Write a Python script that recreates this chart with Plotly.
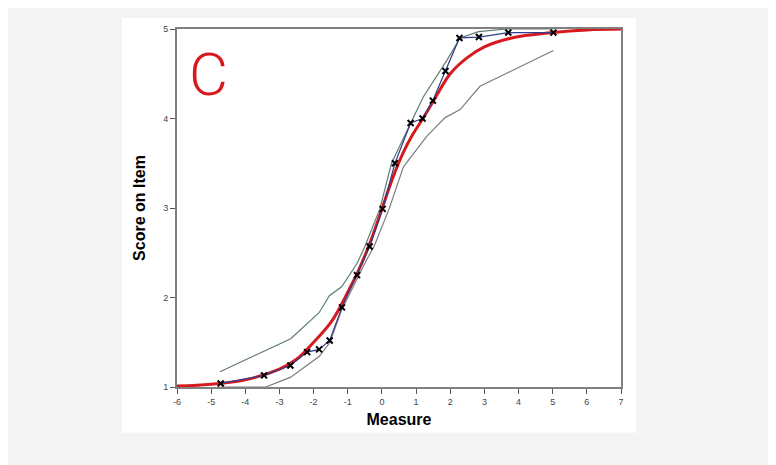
import plotly.graph_objects as go

# observed item scores (x markers joined by the blue line)
obs_x = [-4.72, -3.45, -2.68, -2.19, -1.84, -1.53, -1.17, -0.73, -0.36,
         0.02, 0.38, 0.84, 1.19, 1.49, 1.86, 2.27, 2.84, 3.70, 5.02]
obs_y = [1.04, 1.13, 1.24, 1.39, 1.42, 1.52, 1.89, 2.25, 2.57,
         2.99, 3.50, 3.95, 4.00, 4.20, 4.53, 4.90, 4.91, 4.96, 4.96]

# model expected score curve (red)
model_x = [-6.0, -5.0, -4.0, -3.0, -2.5, -2.0, -1.5, -1.2, -1.0, -0.7, -0.35, 0.0,
           0.3, 0.6, 0.9, 1.2, 1.5, 2.0, 2.5, 3.0, 3.8, 5.0, 6.0, 7.0]
model_y = [1.01, 1.03, 1.08, 1.20, 1.31, 1.50, 1.72, 1.91, 2.06, 2.29, 2.61, 2.99,
           3.32, 3.60, 3.82, 4.00, 4.19, 4.50, 4.68, 4.80, 4.90, 4.96, 4.99, 5.00]

# upper confidence band
upper_x = [-4.74, -2.67, -1.84, -1.54, -1.18, -0.73, -0.5, -0.06, 0.28,
           1.21, 1.90, 2.29, 2.83, 3.66, 5.02]
upper_y = [1.17, 1.54, 1.83, 2.02, 2.12, 2.38, 2.57, 2.99, 3.50,
           4.24, 4.65, 4.90, 4.97, 5.00, 5.00]

# lower confidence band
lower_x = [-4.72, -3.40, -2.67, -1.84, -1.52, -1.18, -0.45, -0.23, 0.21,
           0.63, 1.31, 1.85, 2.29, 2.87, 5.02]
lower_y = [1.00, 1.00, 1.11, 1.34, 1.50, 1.86, 2.42, 2.57, 2.99,
           3.46, 3.80, 4.01, 4.10, 4.36, 4.76]

x_ticks = list(range(-6, 8))
x_labels = [str(v) for v in x_ticks]
y_ticks = [1, 2, 3, 4, 5]

fig = go.Figure()
fig.add_trace(go.Scatter(x=upper_x, y=upper_y, mode='lines',
                         line=dict(color='rgb(95,125,115)', width=1.2)))
fig.add_trace(go.Scatter(x=lower_x, y=lower_y, mode='lines',
                         line=dict(color='rgb(125,125,125)', width=1.2)))
fig.add_trace(go.Scatter(x=model_x, y=model_y, mode='lines', line_shape='spline',
                         line=dict(color='rgb(215,25,30)', width=3)))
fig.add_trace(go.Scatter(x=obs_x, y=obs_y, mode='lines+markers',
                         line=dict(color='rgb(50,60,140)', width=1.2),
                         marker=dict(symbol='x-thin', size=6, color='black',
                                     line=dict(color='black', width=2))))

fig.update_layout(
    width=776, height=465,
    margin=dict(l=169, r=163, t=21, b=86),
    paper_bgcolor='rgb(244,244,244)',
    plot_bgcolor='white',
    showlegend=False,
    font=dict(family='Arial, Liberation Sans, sans-serif', color='#333'),
    shapes=[dict(type='rect', xref='paper', yref='paper', layer='below',
                 x0=-0.124, x1=1.034, y0=-0.128, y1=1.031,
                 fillcolor='white', line_width=0)],
    annotations=[dict(text='C', xref='paper', yref='paper', x=0.070, y=0.872,
                      xanchor='center', yanchor='middle', showarrow=False,
                      font=dict(size=60, color='rgb(215,25,30)', weight=300,
                                family='Roboto, sans-serif'))],
)
fig.update_xaxes(range=[-6, 7], tickvals=x_ticks, ticktext=x_labels,
                 ticks='outside', ticklen=5,
                 tickcolor='#555', tickfont=dict(size=9, color='#444'),
                 showgrid=False, zeroline=False, showline=True, mirror=True,
                 linecolor='#808080', linewidth=2,
                 title=dict(text='<b>Measure</b>', font=dict(size=16, color='black'),
                            standoff=8))
fig.update_yaxes(range=[1, 5], tickvals=y_ticks, ticks='outside', ticklen=5,
                 tickcolor='#555', tickfont=dict(size=9, color='#444'),
                 showgrid=False, zeroline=False, showline=True, mirror=True,
                 linecolor='#808080', linewidth=2,
                 title=dict(text='<b>Score on Item</b>', font=dict(size=16, color='black'),
                            standoff=14))

fig.write_html("out.html")
